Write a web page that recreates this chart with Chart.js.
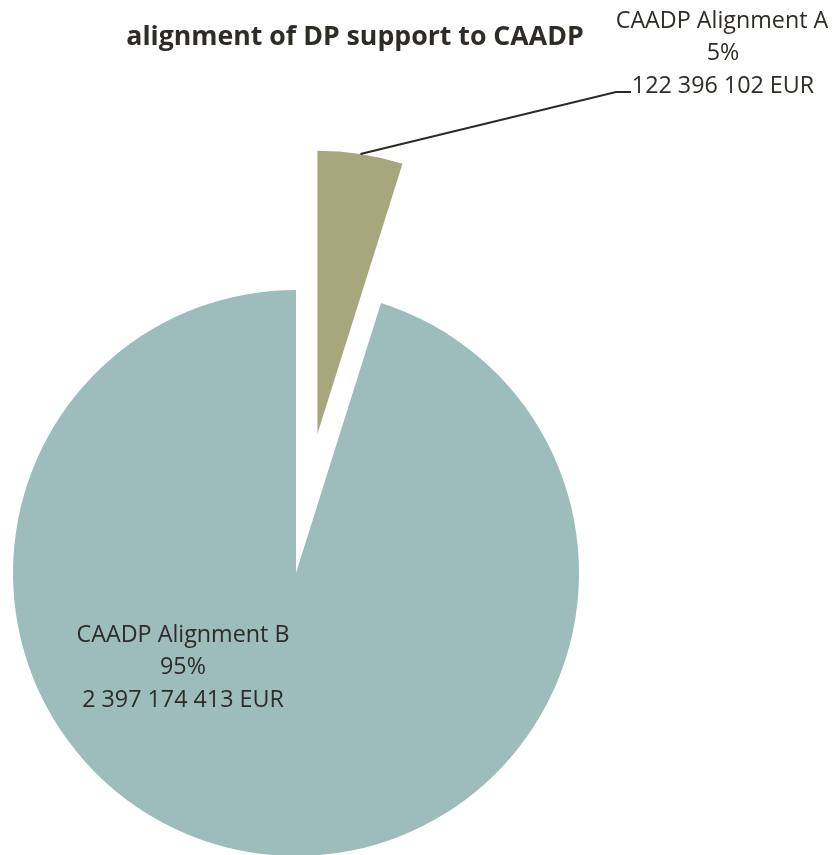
<!DOCTYPE html>
<html>
<head>
<meta charset="utf-8">
<script src="https://cdn.jsdelivr.net/npm/chart.js@4"></script>
<style>
  html, body { margin: 0; padding: 0; background: #fff; }
  #wrap { width: 835px; height: 855px; }
</style>
</head>
<body>
<div id="wrap"><canvas id="pieChart" width="835" height="855"></canvas></div>
<script>
const title = 'alignment of DP support to CAADP';
const categories = ['CAADP Alignment A', 'CAADP Alignment B'];
const amounts = [122396102, 2397174413];
const percentLabels = ['5%', '95%'];
const amountLabels = ['122 396 102 EUR', '2 397 174 413 EUR'];

const textColor = '#2f2b26';
// how far each slice is pulled out from the centre (px)
const explode = [141, 0];

// pick a font size so the given text takes roughly the wanted width
function fitFont(ctx, text, weight, family, width) {
    ctx.font = weight + ' 20px ' + family;
    const size = 20 * width / ctx.measureText(text).width;
    return weight + ' ' + size.toFixed(1) + 'px ' + family;
}

// draw the arcs ourselves so the exploded slice keeps its shape
const explodePlugin = {
    id: 'explodeSlice',
    beforeDatasetDraw(chart, args) {
        const ctx = chart.ctx;
        args.meta.data.forEach((arc, i) => {
            const p = arc.getProps(['startAngle', 'endAngle'], true);
            const half = (p.startAngle + p.endAngle) / 2;
            ctx.save();
            ctx.translate(Math.cos(half) * explode[i], Math.sin(half) * explode[i]);
            arc.draw(ctx);
            ctx.restore();
        });
        return false;
    }
};

const labelPlugin = {
    id: 'pieLabels',
    afterDraw(chart) {
        const ctx = chart.ctx;
        ctx.save();
        ctx.fillStyle = textColor;
        ctx.textAlign = 'center';
        ctx.textBaseline = 'alphabetic';

        ctx.font = fitFont(ctx, title, 'bold', '"Open Sans"', 457);
        ctx.fillText(title, 355, 45);

        // label A (outside, with leader line)
        ctx.font = fitFont(ctx, categories[0], 'normal', '"Open Sans"', 213);
        ctx.fillText(categories[0], 722, 28);
        ctx.fillText(percentLabels[0], 723, 60);
        ctx.fillText(amountLabels[0], 723, 93);

        // label B (inside)
        ctx.fillText(categories[1], 183, 642);
        ctx.fillText(percentLabels[1], 183, 674);
        ctx.fillText(amountLabels[1], 183, 707);

        // leader line from the exploded slice
        const arc = chart.getDatasetMeta(0).data[0];
        const p = arc.getProps(['x', 'y', 'startAngle', 'endAngle', 'outerRadius'], true);
        const half = (p.startAngle + p.endAngle) / 2;
        const sx = p.x + Math.cos(half) * (explode[0] + p.outerRadius);
        const sy = p.y + Math.sin(half) * (explode[0] + p.outerRadius);
        ctx.strokeStyle = '#2b2a24';
        ctx.lineWidth = 2;
        ctx.beginPath();
        ctx.moveTo(sx, sy);
        ctx.lineTo(616, 92);
        ctx.lineTo(631, 92);
        ctx.stroke();
        ctx.restore();
    }
};

new Chart(document.getElementById('pieChart'), {
    type: 'pie',
    data: {
        labels: categories,
        datasets: [{
            data: amounts,
            backgroundColor: ['#a8a67d', '#9dbcbc'],
            borderWidth: 0,
            hoverOffset: 0,
            radius: 283
        }]
    },
    options: {
        responsive: false,
        animation: false,
        layout: {
            padding: { left: 0, right: 243, top: 291, bottom: 0 }
        },
        plugins: {
            legend: { display: false },
            tooltip: { enabled: false },
            title: { display: false }
        },
        events: []
    },
    plugins: [explodePlugin, labelPlugin]
});
</script>
</body>
</html>
